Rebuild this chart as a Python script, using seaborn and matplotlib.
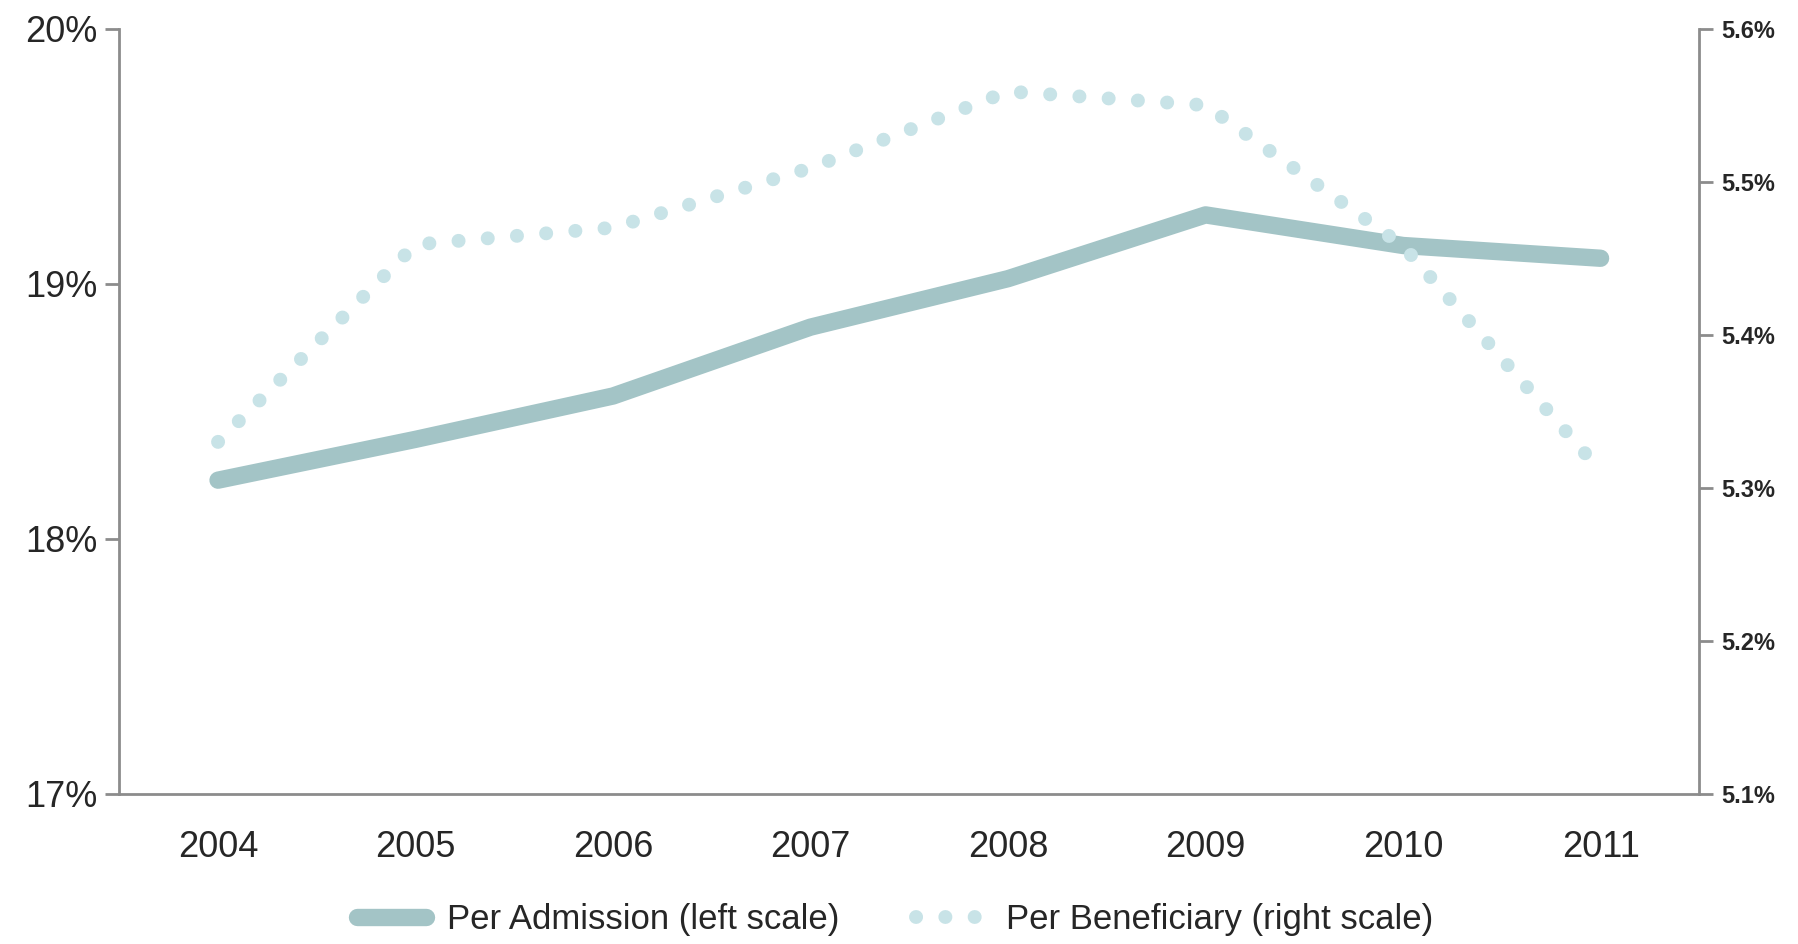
import seaborn as sns
import matplotlib.pyplot as plt
import pandas as pd
from matplotlib.lines import Line2D

# Data
years = ["2004", "2005", "2006", "2007", "2008", "2009", "2010", "2011"]
per_admission = [18.23, 18.39, 18.56, 18.83, 19.02, 19.27, 19.15, 19.10]      # left scale, %
per_beneficiary = [5.330, 5.459, 5.470, 5.509, 5.559, 5.550, 5.458, 5.311]  # right scale, %

left_ticks = [17, 18, 19, 20]
right_ticks = [5.1, 5.2, 5.3, 5.4, 5.5, 5.6]

df = pd.DataFrame({"year": years, "adm": per_admission, "ben": per_beneficiary})

sns.set_style("white")
plt.rcParams["font.family"] = ["Liberation Sans Narrow", "Liberation Sans", "DejaVu Sans"]

solid_col = "#A3C4C6"
dot_col = "#C8E3E7"
spine_col = "#8C8C8C"
dot_dash = (0.01, 2.1)

fig = plt.figure(figsize=(17.99, 9.44), dpi=100)
ax = fig.add_axes([0.0663, 0.159, 0.8783, 0.8106])
ax2 = ax.twinx()

sns.lineplot(data=df, x="year", y="adm", ax=ax, color=solid_col,
             linewidth=12.5, solid_capstyle="round", solid_joinstyle="round",
             sort=False, legend=False)
sns.lineplot(data=df, x="year", y="ben", ax=ax2, color=dot_col,
             linewidth=10, sort=False, legend=False)
dline = ax2.get_lines()[0]
dline.set_dashes(dot_dash)
dline.set_dash_capstyle("round")

ax.set_xlim(-0.5, len(years) - 0.5)
ax.set_ylim(17, 20)
ax2.set_ylim(5.1, 5.6)

ax.set_yticks(left_ticks)
ax.set_yticklabels([f"{v}%" for v in left_ticks], fontsize=26)
ax2.set_yticks(right_ticks)
ax2.set_yticklabels([f"{v:.1f}%" for v in right_ticks], fontsize=17,
                    fontweight="bold", family=["Liberation Sans", "DejaVu Sans"])

ax.set_xticks(range(len(years)))
ax.set_xticklabels(years, fontsize=26)
ax.set_xticks([i - 0.5 for i in range(len(years) + 1)], minor=True)
ax.tick_params(axis="x", which="major", length=0, pad=26)
ax.tick_params(axis="x", which="minor", length=12, width=2, color=spine_col)
ax.tick_params(axis="y", length=10, width=2, color=spine_col, pad=6)
ax2.tick_params(axis="y", length=10, width=2, color=spine_col, pad=6)

ax.set_xlabel("")
ax.set_ylabel("")
ax2.set_ylabel("")

for a in (ax, ax2):
    a.spines["top"].set_visible(False)
    for s in ("left", "right", "bottom"):
        a.spines[s].set_color(spine_col)
        a.spines[s].set_linewidth(2)
ax.spines["right"].set_visible(False)
ax2.spines["left"].set_visible(False)
ax2.spines["bottom"].set_visible(False)
ax.grid(False)
ax2.grid(False)

handles = [
    Line2D([], [], color=solid_col, linewidth=12.5, solid_capstyle="round"),
    Line2D([], [], color=dot_col, linewidth=10, dashes=dot_dash,
           dash_capstyle="round"),
]
fig.legend(handles, ["Per Admission (left scale)", "Per Beneficiary (right scale)"],
           loc="center", bbox_to_anchor=(0.4975, 0.026), ncol=2, frameon=False,
           fontsize=25, handlelength=2.0, columnspacing=2.2, handletextpad=0.6)

fig.savefig("out.png", dpi=100)
